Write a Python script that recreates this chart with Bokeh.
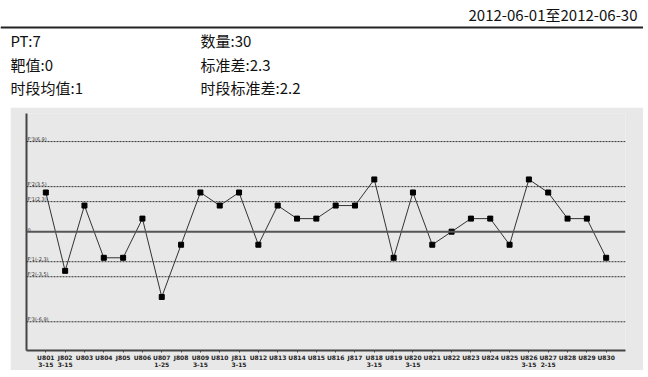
from bokeh.plotting import figure
from bokeh.models import Range1d, FixedTicker, Label, Span, ColumnDataSource, Spacer
from bokeh.layouts import column, row
from bokeh.embed import file_html
from bokeh.resources import INLINE
from bokeh.core.properties import value

# ---- data ----
date_range_text = "2012-06-01至2012-06-30"
info_left = ["PT:7", "靶值:0", "时段均值:1"]
info_right = ["数量:30", "标准差:2.3", "时段标准差:2.2"]

idx = list(range(1, 31))
vals = [3, -3, 2, -2, -2, 1, -5, -1, 3, 2, 3, -1, 2, 1, 1, 2, 2, 4, -2, 3,
        -1, 0, 1, 1, -1, 4, 3, 1, 1, -2]
names = ["U801", "J802", "U803", "U804", "J805", "U806", "U807", "J808", "U809", "U810",
         "J811", "U812", "U813", "U814", "U815", "U816", "J817", "U818", "U819", "U820",
         "U821", "U822", "U823", "U824", "U825", "U826", "U827", "U828", "U829", "U830"]
sub = {1: "3-15", 2: "3-15", 7: "1-25", 9: "3-15", 11: "3-15", 18: "3-15",
       20: "3-15", 26: "3-15", 27: "2-15"}
levels = [6.9, 3.45, 2.3, -2.3, -3.45, -6.9]
level_labels = ["F'3(6.9)", "F'2(3.5)", "F'1(2.3)", "F'1(-2.3)", "F'2(-3.5)", "F'3(-6.9)"]
center_value = 0
center_label = "0"

FONT = "Noto Sans CJK SC"

# ---- header ----
HW, HH = 643, 107
h = figure(width=HW, height=HH, output_backend="svg", toolbar_location=None,
           x_range=Range1d(0, HW), y_range=Range1d(HH, 0),
           x_axis_location=None, y_axis_location=None,
           min_border=0, outline_line_color=None)
h.grid.visible = False
h.border_fill_color = "white"
h.background_fill_color = "white"

h.add_layout(Label(x=637, y=14, text=date_range_text, text_align="right",
                   text_baseline="middle", text_font=FONT, text_font_size="15px",
                   text_color="#111"))
h.add_layout(Span(location=27, dimension="width", line_color="#222", line_width=2))
for i, t in enumerate(info_left):
    h.add_layout(Label(x=10, y=40 + i * 23.5, text=t, text_baseline="middle",
                       text_font=FONT, text_font_size="15px", text_color="#111"))
for i, t in enumerate(info_right):
    h.add_layout(Label(x=200, y=40 + i * 23.5, text=t, text_baseline="middle",
                       text_font=FONT, text_font_size="15px", text_color="#111"))

# ---- chart ----
GRAY = "#e8e8e8"
p = figure(width=633, height=263, output_backend="svg", toolbar_location=None,
           x_range=Range1d(0, 31), y_range=Range1d(-9.1, 9.05),
           min_border_left=16, min_border_right=18, min_border_top=6, min_border_bottom=18,
           outline_line_color=None)
p.background_fill_color = GRAY
p.border_fill_color = GRAY
p.grid.visible = False

p.yaxis.ticker = FixedTicker(ticks=[])
p.yaxis.axis_line_width = 2
p.yaxis.axis_line_color = "#444"
p.yaxis.major_tick_line_color = None
p.yaxis.minor_tick_line_color = None
p.yaxis.major_label_text_font_size = "0px"

p.xaxis.ticker = FixedTicker(ticks=idx)
p.xaxis.major_label_overrides = {i: (names[i - 1] + ("\n" + sub[i] if i in sub else "")) for i in idx}
p.xaxis.axis_line_width = 2
p.xaxis.axis_line_color = "#444"
p.xaxis.major_tick_in = 0
p.xaxis.major_tick_out = 2
p.xaxis.major_tick_line_color = "#444"
p.xaxis.minor_tick_line_color = None
p.xaxis.major_label_text_font_size = "6px"
p.xaxis.major_label_text_line_height = 1.0
p.xaxis.major_label_text_font_style = "bold"
p.xaxis.major_label_text_color = "#222"
p.xaxis.major_label_standoff = 1
p.xaxis.major_label_text_font = "DejaVu Sans"

for lv in levels:
    p.add_layout(Span(location=lv, dimension="width", line_color="#333",
                      line_width=1, line_dash="2 1"))
p.add_layout(Span(location=center_value, dimension="width", line_color="#555", line_width=2))

lab_src = ColumnDataSource(dict(x=[0.05] * (len(levels) + 1), y=levels + [center_value],
                                t=level_labels + [center_label]))
p.text(x="x", y="y", text="t", source=lab_src, text_font_size="5px",
       text_baseline="bottom", text_color="#333", text_font=value("DejaVu Sans"))

src = ColumnDataSource(dict(x=idx, y=vals))
p.line("x", "y", source=src, line_color="#333", line_width=1)
p.scatter("x", "y", source=src, marker="square", size=5, fill_color="black", line_color="black")

layout = column(h, row(Spacer(width=10, height=263), p, spacing=0), spacing=0)
open("out.html", "w").write(file_html(layout, INLINE))
